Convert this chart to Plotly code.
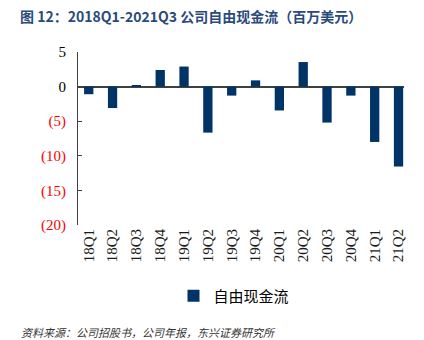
import plotly.graph_objects as go

categories = ["18Q1", "18Q2", "18Q3", "18Q4", "19Q1", "19Q2", "19Q3", "19Q4",
              "20Q1", "20Q2", "20Q3", "20Q4", "21Q1", "21Q2"]
free_cash_flow = [-1.1, -3.1, 0.2, 2.4, 2.9, -6.65, -1.3, 0.9,
                  -3.45, 3.55, -5.2, -1.3, -8.0, -11.55]
y_tick_values = [5, 0, -5, -10, -15, -20]
y_tick_labels = ["5", "0",
                 "<span style='color:#FF0000'>(5)</span>",
                 "<span style='color:#FF0000'>(10)</span>",
                 "<span style='color:#FF0000'>(15)</span>",
                 "<span style='color:#FF0000'>(20)</span>"]
series_name = "自由现金流"
title_text = "图 12：2018Q1-2021Q3 公司自由现金流（百万美元）"
source_text = "资料来源：公司招股书，公司年报，东兴证券研究所"

W, H = 424, 340
L, R, T, B = 78, 20, 52, 115
pw, ph = W - L - R, H - T - B

def px_x(p):
    return (p - L) / pw

def px_y(p):
    return (H - B - p) / ph

fig = go.Figure()
fig.add_trace(go.Bar(
    x=categories, y=free_cash_flow, name=series_name,
    marker=dict(color="#003366", line=dict(width=0)),
    showlegend=True,
))

fig.update_layout(
    width=W, height=H,
    margin=dict(l=L, r=R, t=T, b=B, pad=0),
    paper_bgcolor="white", plot_bgcolor="white",
    bargap=0.61,
    showlegend=True,
    legend=dict(
        orientation="h", x=px_x(234), xanchor="center",
        y=px_y(296), yanchor="middle",
        font=dict(family="Noto Sans CJK SC", size=15, color="#000000"),
        itemwidth=30, bgcolor="rgba(0,0,0,0)",
    ),
    font=dict(family="Liberation Serif", size=15, color="#000000"),
)

fig.update_xaxes(
    type="category", range=[-0.45, 13.23],
    showline=False, showgrid=False, ticks="",
    tickangle=-90,
    tickfont=dict(family="Liberation Serif", size=15, color="#1a1a1a"),
)
fig.update_yaxes(
    range=[-20, 5], tickvals=y_tick_values, ticktext=y_tick_labels,
    showgrid=False, showline=True, linecolor="#404040", linewidth=1.2,
    ticks="inside", ticklen=4, tickcolor="#404040", tickwidth=1.2,
    zeroline=True, zerolinecolor="#404040", zerolinewidth=1.5,
    tickfont=dict(family="Liberation Serif", size=15, color="#000000"),
    ticklabelstandoff=8,
)

fig.add_annotation(
    text=title_text, xref="paper", yref="paper",
    x=px_x(18), y=px_y(16), xanchor="left", yanchor="middle",
    showarrow=False,
    font=dict(family="Noto Sans CJK SC", size=14, color="#2B4A7C", weight="bold"),
)
fig.add_annotation(
    text=source_text, xref="paper", yref="paper",
    x=px_x(19), y=px_y(332), xanchor="left", yanchor="middle",
    showarrow=False,
    font=dict(family="Noto Sans CJK SC", size=11, color="#333333", style="italic"),
)

fig.write_html("out.html")
